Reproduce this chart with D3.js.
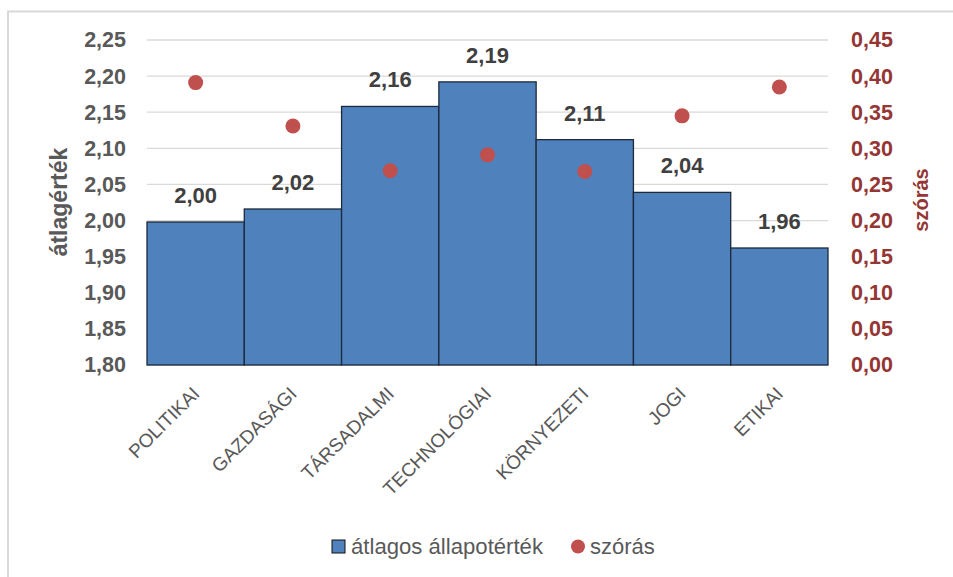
<!DOCTYPE html>
<html>
<head>
<meta charset="utf-8">
<script src="https://cdn.jsdelivr.net/npm/d3@7"></script>
<style>
  html, body { margin: 0; padding: 0; background: #fff; }
  svg { display: block; }
  text { font-family: "Liberation Sans", Arial, sans-serif; }
</style>
</head>
<body>
<svg id="chart" width="953" height="577"></svg>
<script>
// ---- data ----
const categories = ["POLITIKAI", "GAZDASÁGI", "TÁRSADALMI", "TECHNOLÓGIAI", "KÖRNYEZETI", "JOGI", "ETIKAI"];
const meanValues = [1.998, 2.016, 2.158, 2.192, 2.112, 2.039, 1.962];
const meanLabels = ["2,00", "2,02", "2,16", "2,19", "2,11", "2,04", "1,96"];
const sdValues = [0.391, 0.331, 0.269, 0.291, 0.268, 0.345, 0.385];
const leftTicks = [1.80, 1.85, 1.90, 1.95, 2.00, 2.05, 2.10, 2.15, 2.20, 2.25];
const rightTicks = [0.00, 0.05, 0.10, 0.15, 0.20, 0.25, 0.30, 0.35, 0.40, 0.45];
const seriesNames = ["átlagos állapotérték", "szórás"];
const axisTitles = ["átlagérték", "szórás"];

// ---- layout ----
const svg = d3.select("#chart");
const plot = { left: 147, right: 828, top: 40, bottom: 365 };
const barFill = "#4F81BD", barStroke = "#1c2a3a", dotFill = "#C0504D";
const greyText = "#595959", redText = "#943634";
const fmt = v => v.toFixed(2).replace(".", ",");

// chart frame (left/top edges visible)
svg.append("path")
  .attr("d", "M8,580 L8,11.5 L960,11.5")
  .attr("fill", "none").attr("stroke", "#d9d9d9").attr("stroke-width", 2);

const x = d3.scaleBand().domain(categories).range([plot.left, plot.right]).padding(0);
const yL = d3.scaleLinear().domain([1.80, 2.25]).range([plot.bottom, plot.top]);
const yR = d3.scaleLinear().domain([0, 0.45]).range([plot.bottom, plot.top]);

// gridlines
svg.append("g").selectAll("line").data(leftTicks).join("line")
  .attr("x1", plot.left).attr("x2", plot.right)
  .attr("y1", d => yL(d)).attr("y2", d => yL(d))
  .attr("stroke", "#d9d9d9").attr("stroke-width", 1.3);

// left axis
const gL = svg.append("g").attr("transform", `translate(${plot.left},0)`)
  .call(d3.axisLeft(yL).tickValues(leftTicks).tickFormat(fmt).tickSize(0).tickPadding(21));
gL.select(".domain").remove();
gL.selectAll("text").attr("fill", greyText).attr("font-size", 21.5).attr("font-weight", "bold");

// right axis
const gR = svg.append("g").attr("transform", `translate(${plot.right},0)`)
  .call(d3.axisRight(yR).tickValues(rightTicks).tickFormat(fmt).tickSize(0).tickPadding(23));
gR.select(".domain").remove();
gR.selectAll("text").attr("fill", redText).attr("font-size", 21.5).attr("font-weight", "bold");

// bars
svg.append("g").selectAll("rect").data(categories).join("rect")
  .attr("x", d => x(d))
  .attr("y", (d, i) => yL(meanValues[i]))
  .attr("width", x.bandwidth())
  .attr("height", (d, i) => yL(1.80) - yL(meanValues[i]))
  .attr("fill", barFill).attr("stroke", barStroke).attr("stroke-width", 1.3);

// bar labels
svg.append("g").selectAll("text").data(categories).join("text")
  .attr("x", d => x(d) + x.bandwidth() / 2)
  .attr("y", (d, i) => yL(meanValues[i]) - 19)
  .attr("text-anchor", "middle")
  .attr("fill", "#404040").attr("font-size", 22).attr("font-weight", "bold")
  .text((d, i) => meanLabels[i]);

// dots
svg.append("g").selectAll("circle").data(categories).join("circle")
  .attr("cx", d => x(d) + x.bandwidth() / 2)
  .attr("cy", (d, i) => yR(sdValues[i]))
  .attr("r", 7.5)
  .attr("fill", dotFill);

// x labels
svg.append("g").selectAll("text").data(categories).join("text")
  .attr("transform", d => `translate(${x(d) + x.bandwidth() / 2 + 5},${plot.bottom + 30}) rotate(-45)`)
  .attr("text-anchor", "end")
  .attr("fill", greyText).attr("font-size", 19)
  .text(d => d);

// axis titles
svg.append("text")
  .attr("transform", `translate(67,202) rotate(-90)`)
  .attr("text-anchor", "middle")
  .attr("fill", greyText).attr("font-size", 23).attr("font-weight", "bold")
  .text(axisTitles[0]);
svg.append("text")
  .attr("transform", `translate(928,200) rotate(-90)`)
  .attr("text-anchor", "middle")
  .attr("fill", redText).attr("font-size", 20).attr("font-weight", "bold")
  .text(axisTitles[1]);

// legend
const lg = svg.append("g");
lg.append("rect").attr("x", 332).attr("y", 540).attr("width", 13).attr("height", 13)
  .attr("fill", barFill).attr("stroke", "#111").attr("stroke-width", 1);
lg.append("text").attr("x", 351).attr("y", 554).attr("fill", greyText).attr("font-size", 22)
  .attr("textLength", 192).attr("lengthAdjust", "spacingAndGlyphs")
  .text(seriesNames[0]);
lg.append("circle").attr("cx", 578).attr("cy", 546.5).attr("r", 7).attr("fill", dotFill);
lg.append("text").attr("x", 590).attr("y", 554).attr("fill", greyText).attr("font-size", 22)
  .text(seriesNames[1]);
</script>
</body>
</html>
